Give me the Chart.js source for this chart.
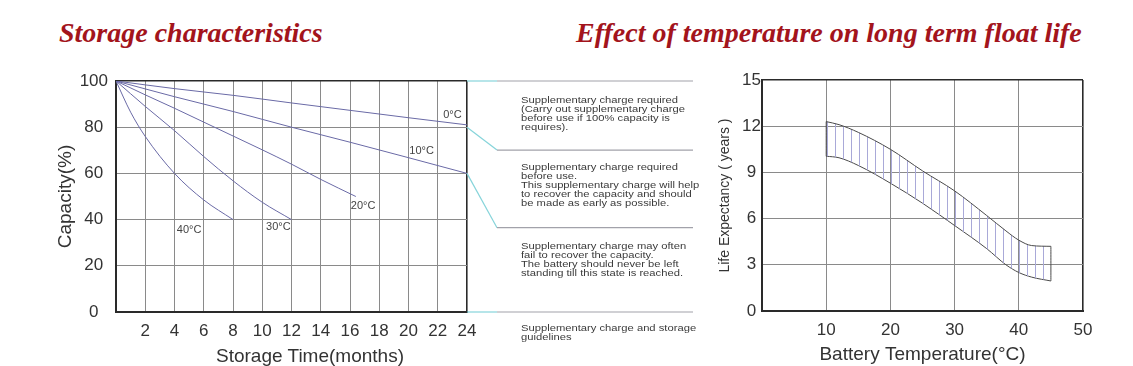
<!DOCTYPE html>
<html>
<head>
<meta charset="utf-8">
<script src="https://cdn.jsdelivr.net/npm/chart.js@4.4.0/dist/chart.umd.min.js"></script>
<style>
  body { margin: 0; background: #fff; }
  #wrap { position: relative; width: 1133px; height: 366px; overflow: hidden; font-family: "Liberation Sans", Arial, sans-serif; }
  canvas { position: absolute; top: 0; }
  .title { position: absolute; top: 19px; font: italic bold 28px/28px "Liberation Serif", serif; color: #a3141c; white-space: nowrap; }
  .note { position: absolute; left: 521px; font-size: 9.5px; line-height: 9.1px; color: #3a3a3a; transform: scaleX(1.18); transform-origin: 0 0; white-space: nowrap; }
  .axis-title { position: absolute; font-size: 19px; color: #333; white-space: nowrap; transform: translate(-50%, -50%); }
</style>
</head>
<body>
<div id="wrap">
  <div class="title" style="left:59px">Storage characteristics</div>
  <div class="title" style="left:576px">Effect of temperature on long term float life</div>
  <canvas id="storage" width="700" height="366" style="left:0"></canvas>
  <canvas id="life" width="433" height="366" style="left:700px"></canvas>
  <div class="axis-title" style="left:310px; top:356px">Storage Time(months)</div>
</div>
<script>
// storage characteristics: capacity (%) against storage time (months)
const months0 = [0, 4, 8, 12, 16, 20, 24];
const cap0 = [100, 96.7, 93.8, 90.5, 87.3, 84.1, 81];
const months10 = [0, 4, 8, 12, 16, 20, 24];
const cap10 = [100, 93.2, 86.8, 80, 73.5, 66.8, 60];
const months20 = [0, 2, 4, 6, 8, 10, 12, 14, 16.4];
const cap20 = [100, 94, 88.2, 82.2, 76.2, 70.2, 64, 57.4, 50];
const months30 = [0, 2, 4, 6, 8, 10, 12];
const cap30 = [100, 89, 78.5, 67.3, 56.8, 47.5, 40];
const months40 = [0, 1, 2, 4, 6, 8];
const cap40 = [100, 86.5, 76, 60, 48.5, 40];

const curveNames = ['0°C', '10°C', '20°C', '30°C', '40°C'];
// where each curve name sits, in months / capacity
const curveNameAt = [[23, 85.5], [20.9, 69.5], [16.9, 46], [11.1, 37], [5, 35.7]];

const monthTicks = [2, 4, 6, 8, 10, 12, 14, 16, 18, 20, 22, 24];
const capacityTicks = [0, 20, 40, 60, 80, 100];

// guideline bands on the right of the storage chart (capacity level -> note row level)
const guideLevels = [[100, 100], [80, 70.1], [60, 36.5], [0, 0]];
const guideNotes = [
  ['Supplementary charge required', '(Carry out supplementary charge', 'before use if 100% capacity is', 'requires).'],
  ['Supplementary charge required', 'before use.', 'This supplementary charge will help', 'to recover the capacity and should', 'be made as early as possible.'],
  ['Supplementary charge may often', 'fail to recover the capacity.', 'The battery should never be left', 'standing till this state is reached.'],
  ['Supplementary charge and storage', 'guidelines']
];
const noteTops = [94.7, 161.5, 240.5, 322.5];

// float life against battery temperature
const batteryTemps = [10, 12, 15, 20, 25, 30, 35, 38, 40, 42, 45];
const lifeUpper = [12.3, 12.1, 11.6, 10.5, 9.1, 7.8, 6.2, 5.2, 4.6, 4.25, 4.2];
const lifeLower = [10.05, 9.95, 9.45, 8.3, 7.0, 5.55, 4.05, 3.0, 2.5, 2.2, 1.95];
const tempTicks = [10, 20, 30, 40, 50];
const lifeTicks = [0, 3, 6, 9, 12, 15];

const wrap = document.getElementById('wrap');
guideNotes.forEach(function (lines, i) {
  const d = document.createElement('div');
  d.className = 'note';
  d.style.top = noteTops[i] + 'px';
  d.innerHTML = lines.join('<br>');
  wrap.appendChild(d);
});

function pts(xs, ys) {
  return xs.map(function (x, i) { return { x: x, y: ys[i] }; });
}

const tickFont = { family: '"Liberation Sans", Arial, sans-serif', size: 17 };
const gridGray = '#8a8a8a';
const edgeDark = '#2a2a2a';

const curveLine = {
  borderColor: '#6a6aa6',
  borderWidth: 1,
  pointRadius: 0,
  fill: false,
  cubicInterpolationMode: 'monotone'
};

const curveLabels = {
  id: 'curveLabels',
  afterDatasetsDraw: function (chart) {
    const ctx = chart.ctx, x = chart.scales.x, y = chart.scales.y;
    ctx.save();
    ctx.font = '11px "Liberation Sans", Arial, sans-serif';
    ctx.fillStyle = '#444';
    ctx.textAlign = 'center';
    ctx.textBaseline = 'middle';
    curveNames.forEach(function (name, i) {
      ctx.fillText(name, x.getPixelForValue(curveNameAt[i][0]), y.getPixelForValue(curveNameAt[i][1]));
    });
    ctx.restore();
  }
};

const guideLines = {
  id: 'guideLines',
  afterDraw: function (chart) {
    const ctx = chart.ctx, y = chart.scales.y;
    const x0 = chart.chartArea.right, x1 = x0 + 30, x2 = x0 + 226;
    ctx.save();
    ctx.lineWidth = 1.2;
    guideLevels.forEach(function (g) {
      const ya = y.getPixelForValue(g[0]), yb = y.getPixelForValue(g[1]);
      ctx.strokeStyle = '#86d4da';
      ctx.beginPath(); ctx.moveTo(x0, ya); ctx.lineTo(x1, yb); ctx.stroke();
      ctx.strokeStyle = '#a2a2aa';
      ctx.beginPath(); ctx.moveTo(x1, yb); ctx.lineTo(x2, yb); ctx.stroke();
    });
    ctx.restore();
  }
};

new Chart(document.getElementById('storage'), {
  type: 'line',
  data: {
    datasets: [
      Object.assign({ label: curveNames[0], data: pts(months0, cap0) }, curveLine),
      Object.assign({ label: curveNames[1], data: pts(months10, cap10) }, curveLine),
      Object.assign({ label: curveNames[2], data: pts(months20, cap20) }, curveLine),
      Object.assign({ label: curveNames[3], data: pts(months30, cap30) }, curveLine),
      Object.assign({ label: curveNames[4], data: pts(months40, cap40) }, curveLine)
    ]
  },
  options: {
    responsive: false,
    animation: false,
    devicePixelRatio: 1,
    layout: { padding: { left: 50, top: 81, right: 233, bottom: 0 } },
    plugins: { legend: { display: false }, tooltip: { enabled: false } },
    scales: {
      x: {
        type: 'linear', min: 0, max: 24,
        afterFit: function (s) { s.height = 54; },
        ticks: {
          stepSize: 2, autoSkip: false, maxRotation: 0, padding: 9,
          font: tickFont, color: '#333',
          callback: function (v) { return monthTicks.includes(v) ? v : ''; }
        },
        grid: {
          drawTicks: false,
          color: function (c) { return c.tick && c.tick.value === 24 ? edgeDark : gridGray; },
          lineWidth: function (c) { return c.tick && c.tick.value === 24 ? 1.6 : 1; }
        },
        border: { color: edgeDark, width: 2 }
      },
      y: {
        min: 0, max: 100,
        afterFit: function (s) { s.width = 66; },
        ticks: {
          stepSize: 20, padding: 8, crossAlign: 'center',
          font: tickFont, color: '#333',
          callback: function (v) { return capacityTicks.includes(v) ? v : ''; }
        },
        grid: {
          drawTicks: false,
          color: function (c) { return c.tick && c.tick.value === 100 ? edgeDark : gridGray; },
          lineWidth: function (c) { return c.tick && c.tick.value === 100 ? 1.6 : 1; }
        },
        border: { color: edgeDark, width: 2 },
        title: { display: true, text: 'Capacity(%)', color: '#333', font: { size: 19 }, padding: { top: 4, bottom: 4 } }
      }
    }
  },
  plugins: [curveLabels, guideLines]
});

// vertical hatching between the two life curves
const hatch = document.createElement('canvas');
hatch.width = 8; hatch.height = 8;
const hctx = hatch.getContext('2d');
hctx.fillStyle = '#a9a9d8';
hctx.fillRect(7, 0, 1, 8);
const lifeCanvas = document.getElementById('life');
const hatchPattern = lifeCanvas.getContext('2d').createPattern(hatch, 'repeat');

const bandLine = {
  borderColor: '#4a4a4a',
  borderWidth: 1,
  pointRadius: 0,
  cubicInterpolationMode: 'monotone'
};
const last = batteryTemps.length - 1;

new Chart(lifeCanvas, {
  type: 'line',
  data: {
    datasets: [
      Object.assign({ label: 'upper', data: pts(batteryTemps, lifeUpper), fill: '+1', backgroundColor: hatchPattern }, bandLine),
      Object.assign({ label: 'lower', data: pts(batteryTemps, lifeLower), fill: false }, bandLine),
      Object.assign({ label: 'start', fill: false, data: [
        { x: batteryTemps[0], y: lifeUpper[0] }, { x: batteryTemps[0], y: lifeLower[0] }] }, bandLine),
      Object.assign({ label: 'end', fill: false, data: [
        { x: batteryTemps[last], y: lifeUpper[last] }, { x: batteryTemps[last], y: lifeLower[last] }] }, bandLine)
    ]
  },
  options: {
    responsive: false,
    animation: false,
    devicePixelRatio: 1,
    layout: { padding: { left: 13, top: 80, right: 50, bottom: 0 } },
    plugins: { legend: { display: false }, tooltip: { enabled: false } },
    scales: {
      x: {
        type: 'linear', min: 0, max: 50,
        afterFit: function (s) { s.height = 55; },
        ticks: {
          stepSize: 10, autoSkip: false, maxRotation: 0, padding: 9,
          font: tickFont, color: '#333',
          callback: function (v) { return tempTicks.includes(v) ? v : ''; }
        },
        grid: {
          drawTicks: false,
          color: function (c) { return c.tick && c.tick.value === 50 ? edgeDark : gridGray; },
          lineWidth: function (c) { return c.tick && c.tick.value === 50 ? 1.6 : 1; }
        },
        border: { color: edgeDark, width: 2 },
        title: { display: true, text: 'Battery Temperature(°C)', color: '#333', font: { size: 19 }, padding: { top: 0, bottom: 0 } }
      },
      y: {
        min: 0, max: 15,
        afterFit: function (s) { s.width = 49; },
        ticks: {
          stepSize: 3, padding: 1, crossAlign: 'center',
          font: tickFont, color: '#333',
          callback: function (v) { return lifeTicks.includes(v) ? v : ''; }
        },
        grid: {
          drawTicks: false,
          color: function (c) { return c.tick && c.tick.value === 15 ? edgeDark : gridGray; },
          lineWidth: function (c) { return c.tick && c.tick.value === 15 ? 1.6 : 1; }
        },
        border: { color: edgeDark, width: 2 },
        title: { display: true, text: 'Life Expectancy ( years )', color: '#333', font: { size: 14 }, padding: { top: 4, bottom: 4 } }
      }
    }
  }
});
</script>
</body>
</html>
